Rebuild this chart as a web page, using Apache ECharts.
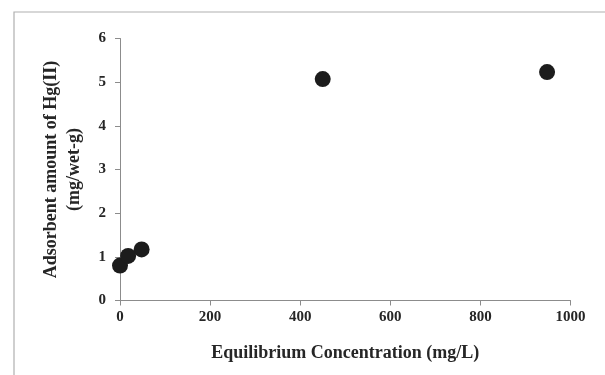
<!DOCTYPE html>
<html>
<head>
<meta charset="utf-8">
<script src="https://cdn.jsdelivr.net/npm/echarts@6/dist/echarts.min.js"></script>
<style>html,body{margin:0;padding:0;background:#fff;}#c{width:605px;height:375px;}</style>
</head>
<body>
<div id="c"></div>
<script>
var xValues = [0, 18, 48, 450, 948];
var yValues = [0.80, 1.02, 1.17, 5.07, 5.23];
var xTitle = 'Equilibrium Concentration (mg/L)';
var yTitle = 'Adsorbent amount of Hg(II)\n(mg/wet-g)';

var points = xValues.map(function (x, i) { return [x, yValues[i]]; });
var font = '"Liberation Serif", "Times New Roman", serif';
var chart = echarts.init(document.getElementById('c'), null, {renderer: 'canvas'});
chart.setOption({
  animation: false,
  backgroundColor: '#fff',
  graphic: [{
    type: 'rect', left: 11.5, top: 9.5,
    shape: {x: 0, y: 0, width: 592, height: 380},
    style: {fill: 'none', stroke: '#b0b0b0', lineWidth: 1.2},
    silent: true
  }],
  grid: {left: 120, right: 34.5, top: 38.5, bottom: 74.5, containLabel: false},
  xAxis: {
    type: 'value', min: 0, max: 1000, interval: 200,
    name: xTitle, nameLocation: 'middle', nameGap: 44,
    nameTextStyle: {fontFamily: font, fontWeight: 'bold', fontSize: 18, color: '#262626'},
    axisLine: {lineStyle: {color: '#8c8c8c', width: 1}},
    axisTick: {show: true, length: 5, lineStyle: {color: '#8c8c8c'}},
    axisLabel: {fontFamily: font, fontWeight: 'bold', fontSize: 15, color: '#262626', margin: 9,
      formatter: function (v) { return String(v); }},
    splitLine: {show: false}
  },
  yAxis: {
    type: 'value', min: 0, max: 6, interval: 1,
    name: yTitle, nameLocation: 'middle', nameGap: 34, nameRotate: 90,
    nameTextStyle: {fontFamily: font, fontWeight: 'bold', fontSize: 18, color: '#262626', lineHeight: 23, align: 'center'},
    axisLine: {show: true, lineStyle: {color: '#8c8c8c', width: 1}},
    axisTick: {show: true, length: 5, lineStyle: {color: '#8c8c8c'}},
    axisLabel: {fontFamily: font, fontWeight: 'bold', fontSize: 15, color: '#262626', margin: 14},
    splitLine: {show: false}
  },
  series: [{
    type: 'scatter',
    data: points,
    symbol: 'circle',
    symbolSize: 16,
    itemStyle: {color: '#1c1c1c', opacity: 1}
  }]
});
</script>
</body>
</html>
